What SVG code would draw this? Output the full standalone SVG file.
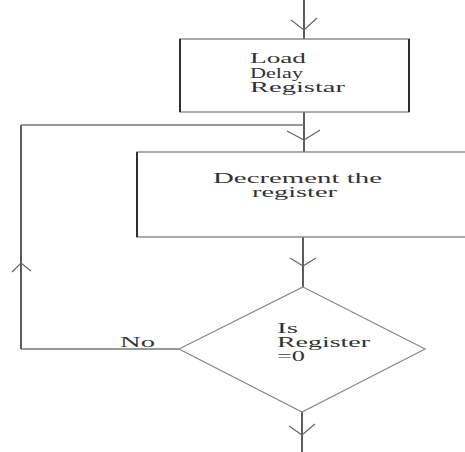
<svg xmlns="http://www.w3.org/2000/svg" width="465" height="452" viewBox="0 0 465 452">
  <defs>
    <style>
      .box { fill: #ffffff; stroke: #888; stroke-width: 1.4; }
      .side { stroke: #222; stroke-width: 1.8; }
      .dec { fill: #ffffff; stroke: #888; stroke-width: 1.2; }
      .wire { fill: none; stroke: #333; stroke-width: 1.6; }
      .loop { fill: none; stroke: #777; stroke-width: 1.4; }
      .head { fill: none; stroke: #666; stroke-width: 1.2; }
      .lbl { font-family: "Liberation Serif", "Times New Roman", serif; font-size: 14px; fill: #333; }
    </style>
  </defs>
  <rect width="465" height="452" fill="#ffffff"/>

  <g id="connectors">
    <!-- entry into Load -->
    <line class="wire" x1="304" y1="0" x2="304" y2="39"/>
    <polyline class="head" points="291,20 304,30 317,18"/>
    <!-- Load to Decrement -->
    <line class="wire" x1="304" y1="112" x2="304" y2="152"/>
    <polyline class="head" points="287,131 304,140 320,130"/>
    <!-- loop back -->
    <line class="loop" x1="179" y1="349" x2="21" y2="349"/>
    <line class="wire" x1="21" y1="349" x2="21" y2="125"/>
    <line class="loop" x1="21" y1="125" x2="304" y2="125"/>
    <polyline class="head" points="12,272 21,263 31,271"/>
    <!-- Decrement to decision -->
    <line class="wire" x1="303" y1="237" x2="303" y2="287"/>
    <polyline class="head" points="290,258 303,266 316,258"/>
    <!-- exit -->
    <line class="wire" x1="302" y1="412" x2="302" y2="452"/>
    <polyline class="head" points="289,426 302,435 315,424"/>
    <text class="lbl" x="120" y="347" textLength="35" lengthAdjust="spacingAndGlyphs">No</text>
  </g>

  <g id="load">
    <rect class="box" x="180" y="39" width="229" height="73"/>
    <line class="side" x1="180" y1="39" x2="180" y2="112"/>
    <line class="side" x1="409" y1="39" x2="409" y2="112"/>
    <text class="lbl" x="250" y="63" textLength="56" lengthAdjust="spacingAndGlyphs">Load</text>
    <text class="lbl" x="250" y="78" textLength="53" lengthAdjust="spacingAndGlyphs">Delay</text>
    <text class="lbl" x="250" y="92" textLength="95" lengthAdjust="spacingAndGlyphs">Registar</text>
  </g>

  <g id="decrement">
    <rect class="box" x="137" y="152" width="340" height="85"/>
    <line class="side" x1="137" y1="152" x2="137" y2="237"/>
    <text class="lbl" x="213" y="183" textLength="169" lengthAdjust="spacingAndGlyphs">Decrement the</text>
    <text class="lbl" x="252" y="197" textLength="85" lengthAdjust="spacingAndGlyphs">register</text>
  </g>

  <g id="decision">
    <polygon class="dec" points="303,287 425,349 302,412 179,349"/>
    <text class="lbl" x="277" y="333" textLength="21" lengthAdjust="spacingAndGlyphs">Is</text>
    <text class="lbl" x="277" y="347" textLength="93" lengthAdjust="spacingAndGlyphs">Register</text>
    <text class="lbl" x="277" y="361" textLength="28" lengthAdjust="spacingAndGlyphs">=0</text>
  </g>
</svg>
